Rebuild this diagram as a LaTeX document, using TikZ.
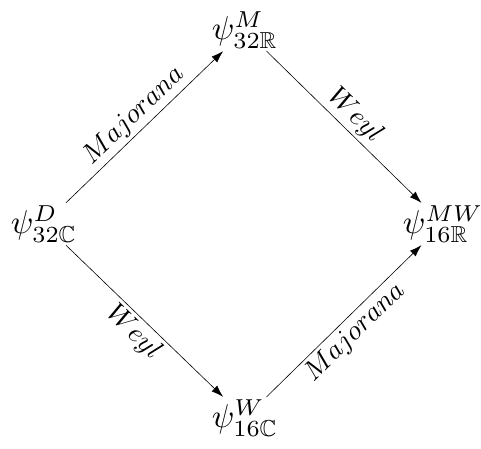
\documentclass[tikz,border=0pt]{standalone}
\usepackage{amsmath,amssymb}
\usetikzlibrary{arrows.meta}

\begin{document}
\begin{tikzpicture}[x=1pt, y=1pt,
    spinor/.style={inner sep=0.6pt, scale=3.3},
    map/.style={-{Latex[length=12pt, width=8pt]}, line width=0.6pt},
    maplabel/.style={sloped, midway, inner sep=1pt, scale=2.75}]
  \useasboundingbox (0,0) rectangle (481,448);

  % Spinors
  \node[spinor] (dirac) at (44,224) {$\psi^{D}_{32\mathbb{C}}$};
  \node[spinor] (major) at (245,418) {$\psi^{M}_{32\mathbb{R}}$};
  \node[spinor] (mweyl) at (443,224) {$\psi^{MW}_{16\mathbb{R}}$};
  \node[spinor] (weyl) at (245,30) {$\psi^{W}_{16\mathbb{C}}$};

  % Reductions
  \draw[map] (dirac) -- (major) node[maplabel, above] {$Majorana$};
  \draw[map] (major) -- (mweyl) node[maplabel, above] {$Weyl$};
  \draw[map] (dirac) -- (weyl) node[maplabel, below] {$Weyl$};
  \draw[map] (weyl) -- (mweyl) node[maplabel, below] {$Majorana$};
\end{tikzpicture}
\end{document}
